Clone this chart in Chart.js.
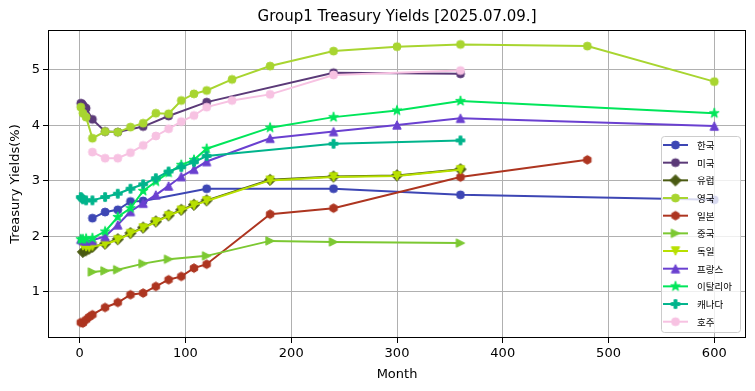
<!DOCTYPE html>
<html><head><meta charset="utf-8">
<script src="https://cdn.jsdelivr.net/npm/chart.js@4.4.1/dist/chart.umd.min.js"></script>
<style>html,body{margin:0;padding:0;background:#fff}canvas{display:block}</style>
</head><body>
<canvas id="c" width="755" height="391"></canvas>
<script>
// ---------- DATA ----------
const chartTitle = 'Group1 Treasury Yields [2025.07.09.]';
const xTicks = [0, 100, 200, 300, 400, 500, 600];
const yTicks = [1, 2, 3, 4, 5];
const seriesNames = ['한국','미국','유럽','영국','일본','중국','독일','프랑스','이탈리아','캐나다','호주'];

const krMonths = [12,24,36,48,60,120,240,360,600];
const krYields = [2.33,2.44,2.48,2.63,2.64,2.86,2.86,2.75,2.66];

const usMonths = [1,2,3,4,6,12,24,36,60,84,120,240,360];
const usYields = [4.40,4.39,4.36,4.34,4.31,4.11,3.89,3.88,3.98,4.17,4.42,4.95,4.93];

const euMonths = [3,6,9,12,24,36,48,60,72,84,96,108,120,180,240,300,360];
const euYields = [1.72,1.75,1.78,1.81,1.87,1.95,2.06,2.16,2.27,2.38,2.48,2.57,2.65,3.02,3.08,3.10,3.21];

const ukMonths = [1,3,6,12,24,36,48,60,72,84,96,108,120,144,180,240,300,360,480,600];
const ukYields = [4.33,4.22,4.15,3.77,3.89,3.88,3.97,4.04,4.22,4.21,4.45,4.57,4.63,4.83,5.07,5.34,5.42,5.46,5.43,4.79];

const jpMonths = [1,3,6,9,12,24,36,48,60,72,84,96,108,120,180,240,360,480];
const jpYields = [0.45,0.44,0.50,0.55,0.59,0.72,0.81,0.95,0.98,1.10,1.22,1.28,1.43,1.50,2.40,2.51,3.07,3.38];

const cnMonths = [12,24,36,60,84,120,180,240,360];
const cnYields = [1.36,1.38,1.40,1.51,1.59,1.65,1.92,1.90,1.88];

const deMonths = [3,6,9,12,24,36,48,60,72,84,96,108,120,180,240,300,360];
const deYields = [1.83,1.81,1.80,1.82,1.86,1.94,2.05,2.15,2.26,2.37,2.47,2.56,2.64,3.01,3.07,3.09,3.20];

const frMonths = [1,3,6,12,24,36,48,60,72,84,96,108,120,180,240,300,360,600];
const frYields = [1.95,1.93,1.92,1.93,2.00,2.21,2.45,2.60,2.75,2.91,3.08,3.21,3.35,3.77,3.89,4.01,4.13,3.99];

const itMonths = [1,3,6,12,24,36,48,60,72,84,96,108,120,180,240,300,360,600];
const itYields = [1.95,1.95,1.96,1.97,2.09,2.35,2.51,2.82,2.99,3.15,3.29,3.38,3.58,3.96,4.15,4.27,4.44,4.22];

const caMonths = [1,2,3,6,12,24,36,48,60,72,84,96,108,120,240,360];
const caYields = [2.71,2.69,2.67,2.65,2.65,2.71,2.77,2.86,2.94,3.05,3.17,3.25,3.34,3.45,3.67,3.73];

const auMonths = [12,24,36,48,60,72,84,96,108,120,144,180,240,360];
const auYields = [3.52,3.41,3.41,3.51,3.64,3.81,3.94,4.07,4.18,4.33,4.45,4.56,4.91,4.99];

// ---------- STYLE ----------
const seriesMonths = [krMonths,usMonths,euMonths,ukMonths,jpMonths,cnMonths,deMonths,frMonths,itMonths,caMonths,auMonths];
const seriesYields = [krYields,usYields,euYields,ukYields,jpYields,cnYields,deYields,frYields,itYields,caYields,auYields];
const colors = ['#3d46b4','#5b3a78','#4a5a12','#a8d530','#ad3520','#7cc832','#b8e000','#6a40d0','#00e65a','#00b48c','#f7c2e2'];
const shapes = ['circle','circle','diamond','circle','hex','triRight','triDown','triUp','star','plus','circle'];

function makeMarker(shape, color) {
  const S = 22, c = document.createElement('canvas');
  c.width = S; c.height = S;
  const g = c.getContext('2d');
  g.translate(S/2, S/2);
  g.fillStyle = color; g.strokeStyle = color; g.lineWidth = 1; g.lineJoin = 'miter';
  g.beginPath();
  const poly = pts => { pts.forEach(([x,y],i) => i ? g.lineTo(x,y) : g.moveTo(x,y)); g.closePath(); };
  const t = 4.2;
  switch (shape) {
    case 'circle': g.arc(0,0,4,0,2*Math.PI); break;
    case 'diamond': poly([[0,-5.6],[5.6,0],[0,5.6],[-5.6,0]]); break;
    case 'triRight': poly([[t,0],[-t,-t],[-t,t]]); break;
    case 'triDown': poly([[0,t],[-t,-t],[t,-t]]); break;
    case 'triUp': poly([[0,-t],[-t,t],[t,t]]); break;
    case 'hex': {
      const p = []; for (let k=0;k<6;k++){ const a = -Math.PI/2 + k*Math.PI/3; p.push([4.3*Math.cos(a), 4.3*Math.sin(a)]); }
      poly(p); break;
    }
    case 'star': {
      const p = []; for (let k=0;k<10;k++){ const r = k%2 ? 2.0 : 5.2; const a = -Math.PI/2 + k*Math.PI/5; p.push([r*Math.cos(a), r*Math.sin(a)]); }
      poly(p); break;
    }
    case 'plus': {
      const a = 4.3, b = 1.4;
      poly([[-b,-a],[b,-a],[b,-b],[a,-b],[a,b],[b,b],[b,a],[-b,a],[-b,b],[-a,b],[-a,-b],[-b,-b]]); break;
    }
  }
  g.fill(); g.stroke();
  return c;
}
const markers = shapes.map((s,i) => makeMarker(s, colors[i]));

const datasets = seriesNames.map((name, i) => ({
  label: name,
  data: seriesMonths[i].map((m, k) => ({x: m, y: seriesYields[i][k]})),
  borderColor: colors[i],
  backgroundColor: colors[i],
  borderWidth: 2,
  pointStyle: markers[i],
  pointRadius: 4,
  pointHoverRadius: 4,
  tension: 0,
  fill: false,
  order: seriesNames.length - i
}));

const framePlugin = {
  id: 'frame',
  afterDatasetsDraw(chart) {
    const {ctx, chartArea: a} = chart;
    ctx.save();
    ctx.strokeStyle = '#000'; ctx.lineWidth = 1;
    ctx.strokeRect(Math.round(a.left)+0.5, Math.round(a.top)+0.5, Math.round(a.right-a.left)-1, Math.round(a.bottom-a.top)-1);
    // legend
    const w = 79, h = 196;
    const bx = a.right - 6 - w, by = a.bottom - 6 - h;
    ctx.beginPath();
    if (ctx.roundRect) ctx.roundRect(bx+0.5, by+0.5, w, h, 3); else ctx.rect(bx+0.5, by+0.5, w, h);
    ctx.fillStyle = 'rgba(255,255,255,0.8)'; ctx.fill();
    ctx.strokeStyle = '#cccccc'; ctx.lineWidth = 1; ctx.stroke();
    const step = 17.67;
    ctx.font = '9.5px "Noto Sans CJK KR", "DejaVu Sans", sans-serif';
    ctx.textBaseline = 'middle'; ctx.textAlign = 'left';
    chart.data.datasets.forEach((ds, i) => {
      const cy = by + 9 + i*step;
      const lx0 = bx + 2, lx1 = bx + 27, mx = (lx0+lx1)/2;
      ctx.strokeStyle = ds.borderColor; ctx.lineWidth = 2;
      ctx.beginPath(); ctx.moveTo(lx0, cy); ctx.lineTo(lx1, cy); ctx.stroke();
      const m = ds.pointStyle;
      ctx.drawImage(m, mx - m.width/2, cy - m.height/2);
      ctx.fillStyle = '#000';
      ctx.fillText(ds.label, bx + 36, cy + 0.5);
    });
    ctx.restore();
  }
};

const tickFont = {family: 'DejaVu Sans', size: 13};
new Chart(document.getElementById('c'), {
  type: 'line',
  data: {datasets},
  options: {
    responsive: false,
    devicePixelRatio: 1,
    animation: false,
    layout: {padding: {top: 0, right: 9, bottom: 0, left: 0}},
    plugins: {
      legend: {display: false},
      tooltip: {enabled: false},
      title: {
        display: true, text: chartTitle, fullSize: false, color: '#000',
        font: {family: 'DejaVu Sans', size: 15, weight: 'normal', lineHeight: 1.2},
        padding: {top: 8, bottom: 4}
      }
    },
    scales: {
      x: {
        type: 'linear', min: -30, max: 630,
        afterBuildTicks: s => { s.ticks = xTicks.map(v => ({value: v})); },
        afterFit: s => { s.height = 53; },
        ticks: {font: tickFont, color: '#000', padding: 3, maxRotation: 0, callback: v => String(v)},
        grid: {color: '#b0b0b0', lineWidth: 1, tickColor: '#000', tickLength: 5, tickWidth: 1},
        border: {display: false},
        title: {display: true, text: 'Month', color: '#000', font: {family: 'DejaVu Sans', size: 13, lineHeight: 1.2}, padding: {top: 0, bottom: 9}}
      },
      y: {
        type: 'linear', min: 0.17, max: 5.72,
        afterBuildTicks: s => { s.ticks = yTicks.map(v => ({value: v})); },
        afterFit: s => { s.width = 48; },
        ticks: {font: tickFont, color: '#000', padding: 3, callback: v => String(v)},
        grid: {color: '#b0b0b0', lineWidth: 1, tickColor: '#000', tickLength: 5, tickWidth: 1},
        border: {display: false},
        title: {display: true, text: 'Treasury Yields(%)', color: '#000', font: {family: 'DejaVu Sans', size: 13, lineHeight: 1.2}, padding: {top: 8, bottom: 0}}
      }
    }
  },
  plugins: [framePlugin]
});
</script>
</body></html>
